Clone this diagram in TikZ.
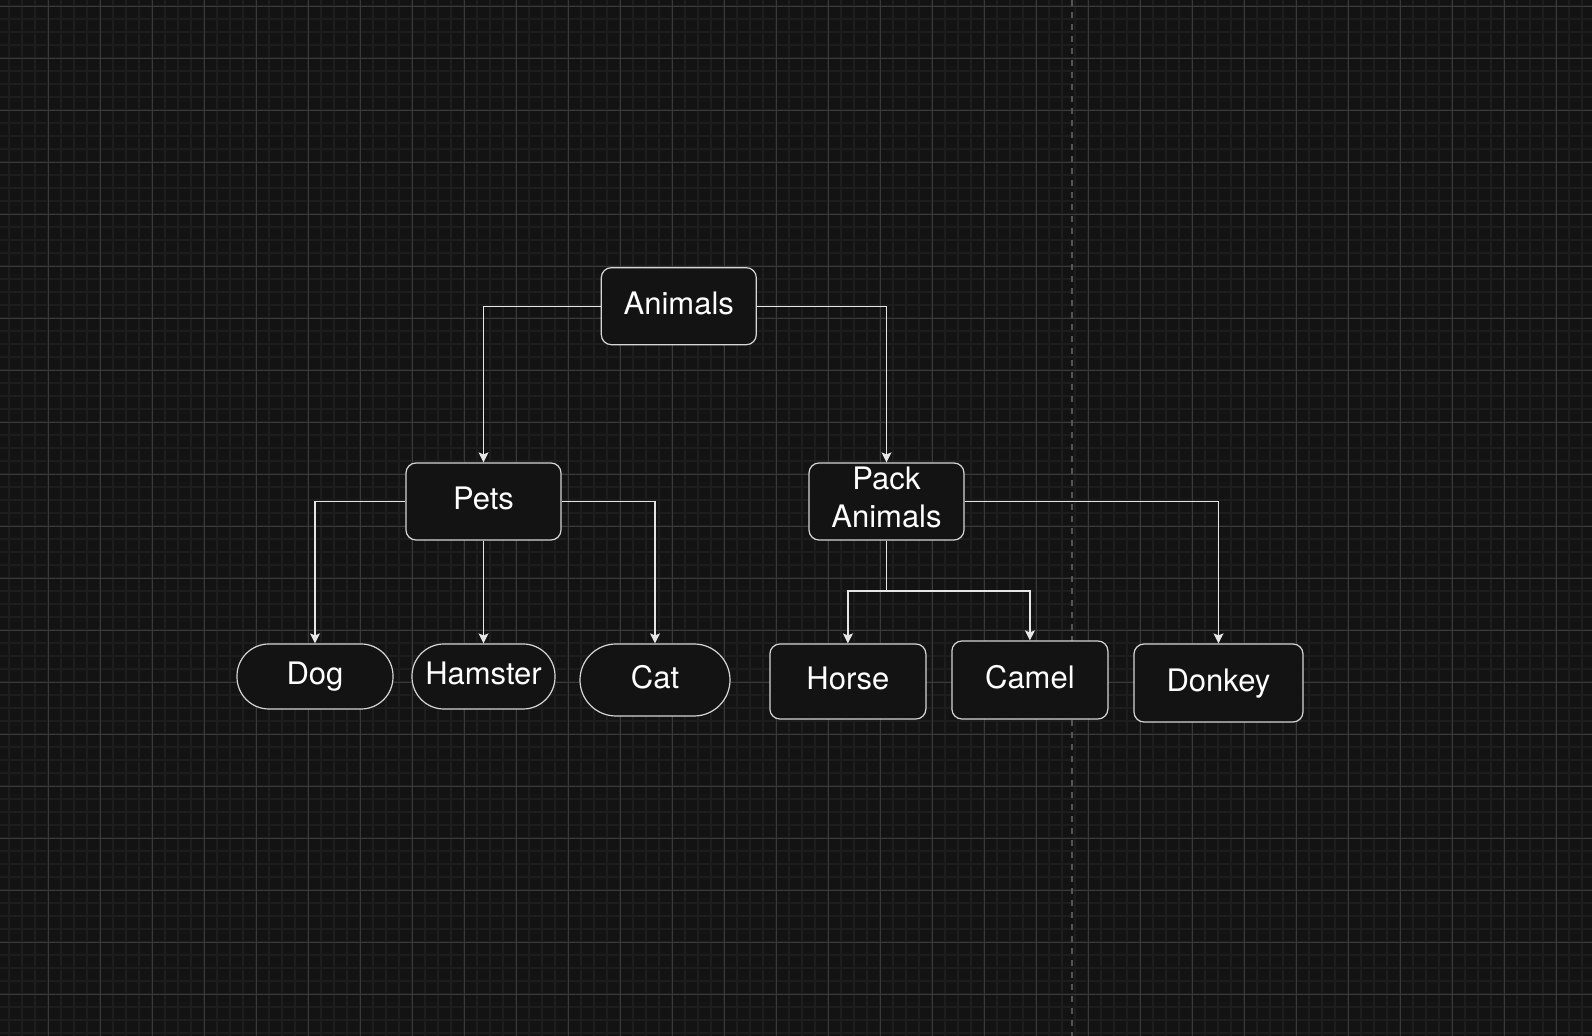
\documentclass[tikz,border=0pt]{standalone}
\usepackage{fontspec}
\setmainfont{TeX Gyre Heros}
\usepackage{tikz}
\usetikzlibrary{arrows.meta}

\definecolor{bgdark}{HTML}{131313}
\definecolor{gridminor}{HTML}{1D1D1D}
\definecolor{gridmajor}{HTML}{3A3A3A}
\definecolor{edgeline}{HTML}{E6E6E6}
\definecolor{boxline}{HTML}{D6D6D6}
\definecolor{sepline}{HTML}{555555}

\tikzset{
  rbox/.style={shape=rectangle,draw=boxline,fill=bgdark,line width=0.6pt,rounded corners=5pt,
    text=white,font=\fontsize{15.5}{18.8}\selectfont,align=center,inner sep=0pt},
  oneline/.style={text height=11.5pt,text depth=3pt},
  pill/.style={rbox,oneline,rounded corners=16pt},
  link/.style={draw=edgeline,line width=0.6pt,-{Stealth[length=5pt,width=5pt,inset=1pt]}}
}

\begin{document}
\begin{tikzpicture}[x=0.5pt,y=-0.5pt]
    \fill[bgdark] (0,0) rectangle (1592,1036);
    \useasboundingbox (0,0) rectangle (1592,1036);
    % grid
    \foreach \gx in {0,...,122} \draw[gridminor,line width=1pt] (9.3+13*\gx,0) -- (9.3+13*\gx,1036);
    \foreach \gy in {0,...,79} \draw[gridminor,line width=1pt] (0,6.3+13*\gy) -- (1592,6.3+13*\gy);
    \foreach \gx in {0,...,29} \draw[gridmajor,line width=0.5pt] (48.3+52*\gx,0) -- (48.3+52*\gx,1036);
    \foreach \gy in {0,...,19} \draw[gridmajor,line width=0.5pt] (0,6.3+52*\gy) -- (1592,6.3+52*\gy);
    \draw[sepline,line width=1pt,dash pattern=on 3pt off 3pt] (1072,0) -- (1072,1036);

    \node[rbox,oneline,minimum width=77.5pt,minimum height=38.5pt] (animals) at (678.8,306.2) {Animals};
    \node[rbox,oneline,minimum width=77.5pt,minimum height=38.5pt] (pets) at (483.5,501.5) {Pets};
    \node[rbox,text depth=4pt,minimum width=77.5pt,minimum height=38.5pt] (pack) at (886.5,501.5) {Pack\\Animals};
    \node[pill,minimum width=78pt,minimum height=32.5pt] (dog) at (315,676.5) {Dog};
    \node[pill,minimum width=71.5pt,minimum height=32.5pt] (hamster) at (483.5,676.5) {Hamster};
    \node[pill,rounded corners=18pt,minimum width=75pt,minimum height=36pt] (cat) at (655,680) {Cat};
    \node[rbox,oneline,minimum width=78pt,minimum height=37.5pt] (horse) at (847.9,681.5) {Horse};
    \node[rbox,oneline,minimum width=78pt,minimum height=39pt] (camel) at (1029.9,680) {Camel};
    \node[rbox,oneline,minimum width=84.5pt,minimum height=39pt] (donkey) at (1218.5,683) {Donkey};
    \coordinate (packsplit) at (886.5,591);

    \draw[link] (animals.west) -| (pets.north);
    \draw[link] (animals.east) -| (pack.north);
    \draw[link] (pets.west) -| (dog.north);
    \draw[link] (pets.south) -- (hamster.north);
    \draw[link] (pets.east) -| (cat.north);
    \draw[link] (pack.south) -- (packsplit) -| (horse.north);
    \draw[link] (packsplit) -| (camel.north);
    \draw[link] (pack.east) -| (donkey.north);
\end{tikzpicture}
\end{document}
